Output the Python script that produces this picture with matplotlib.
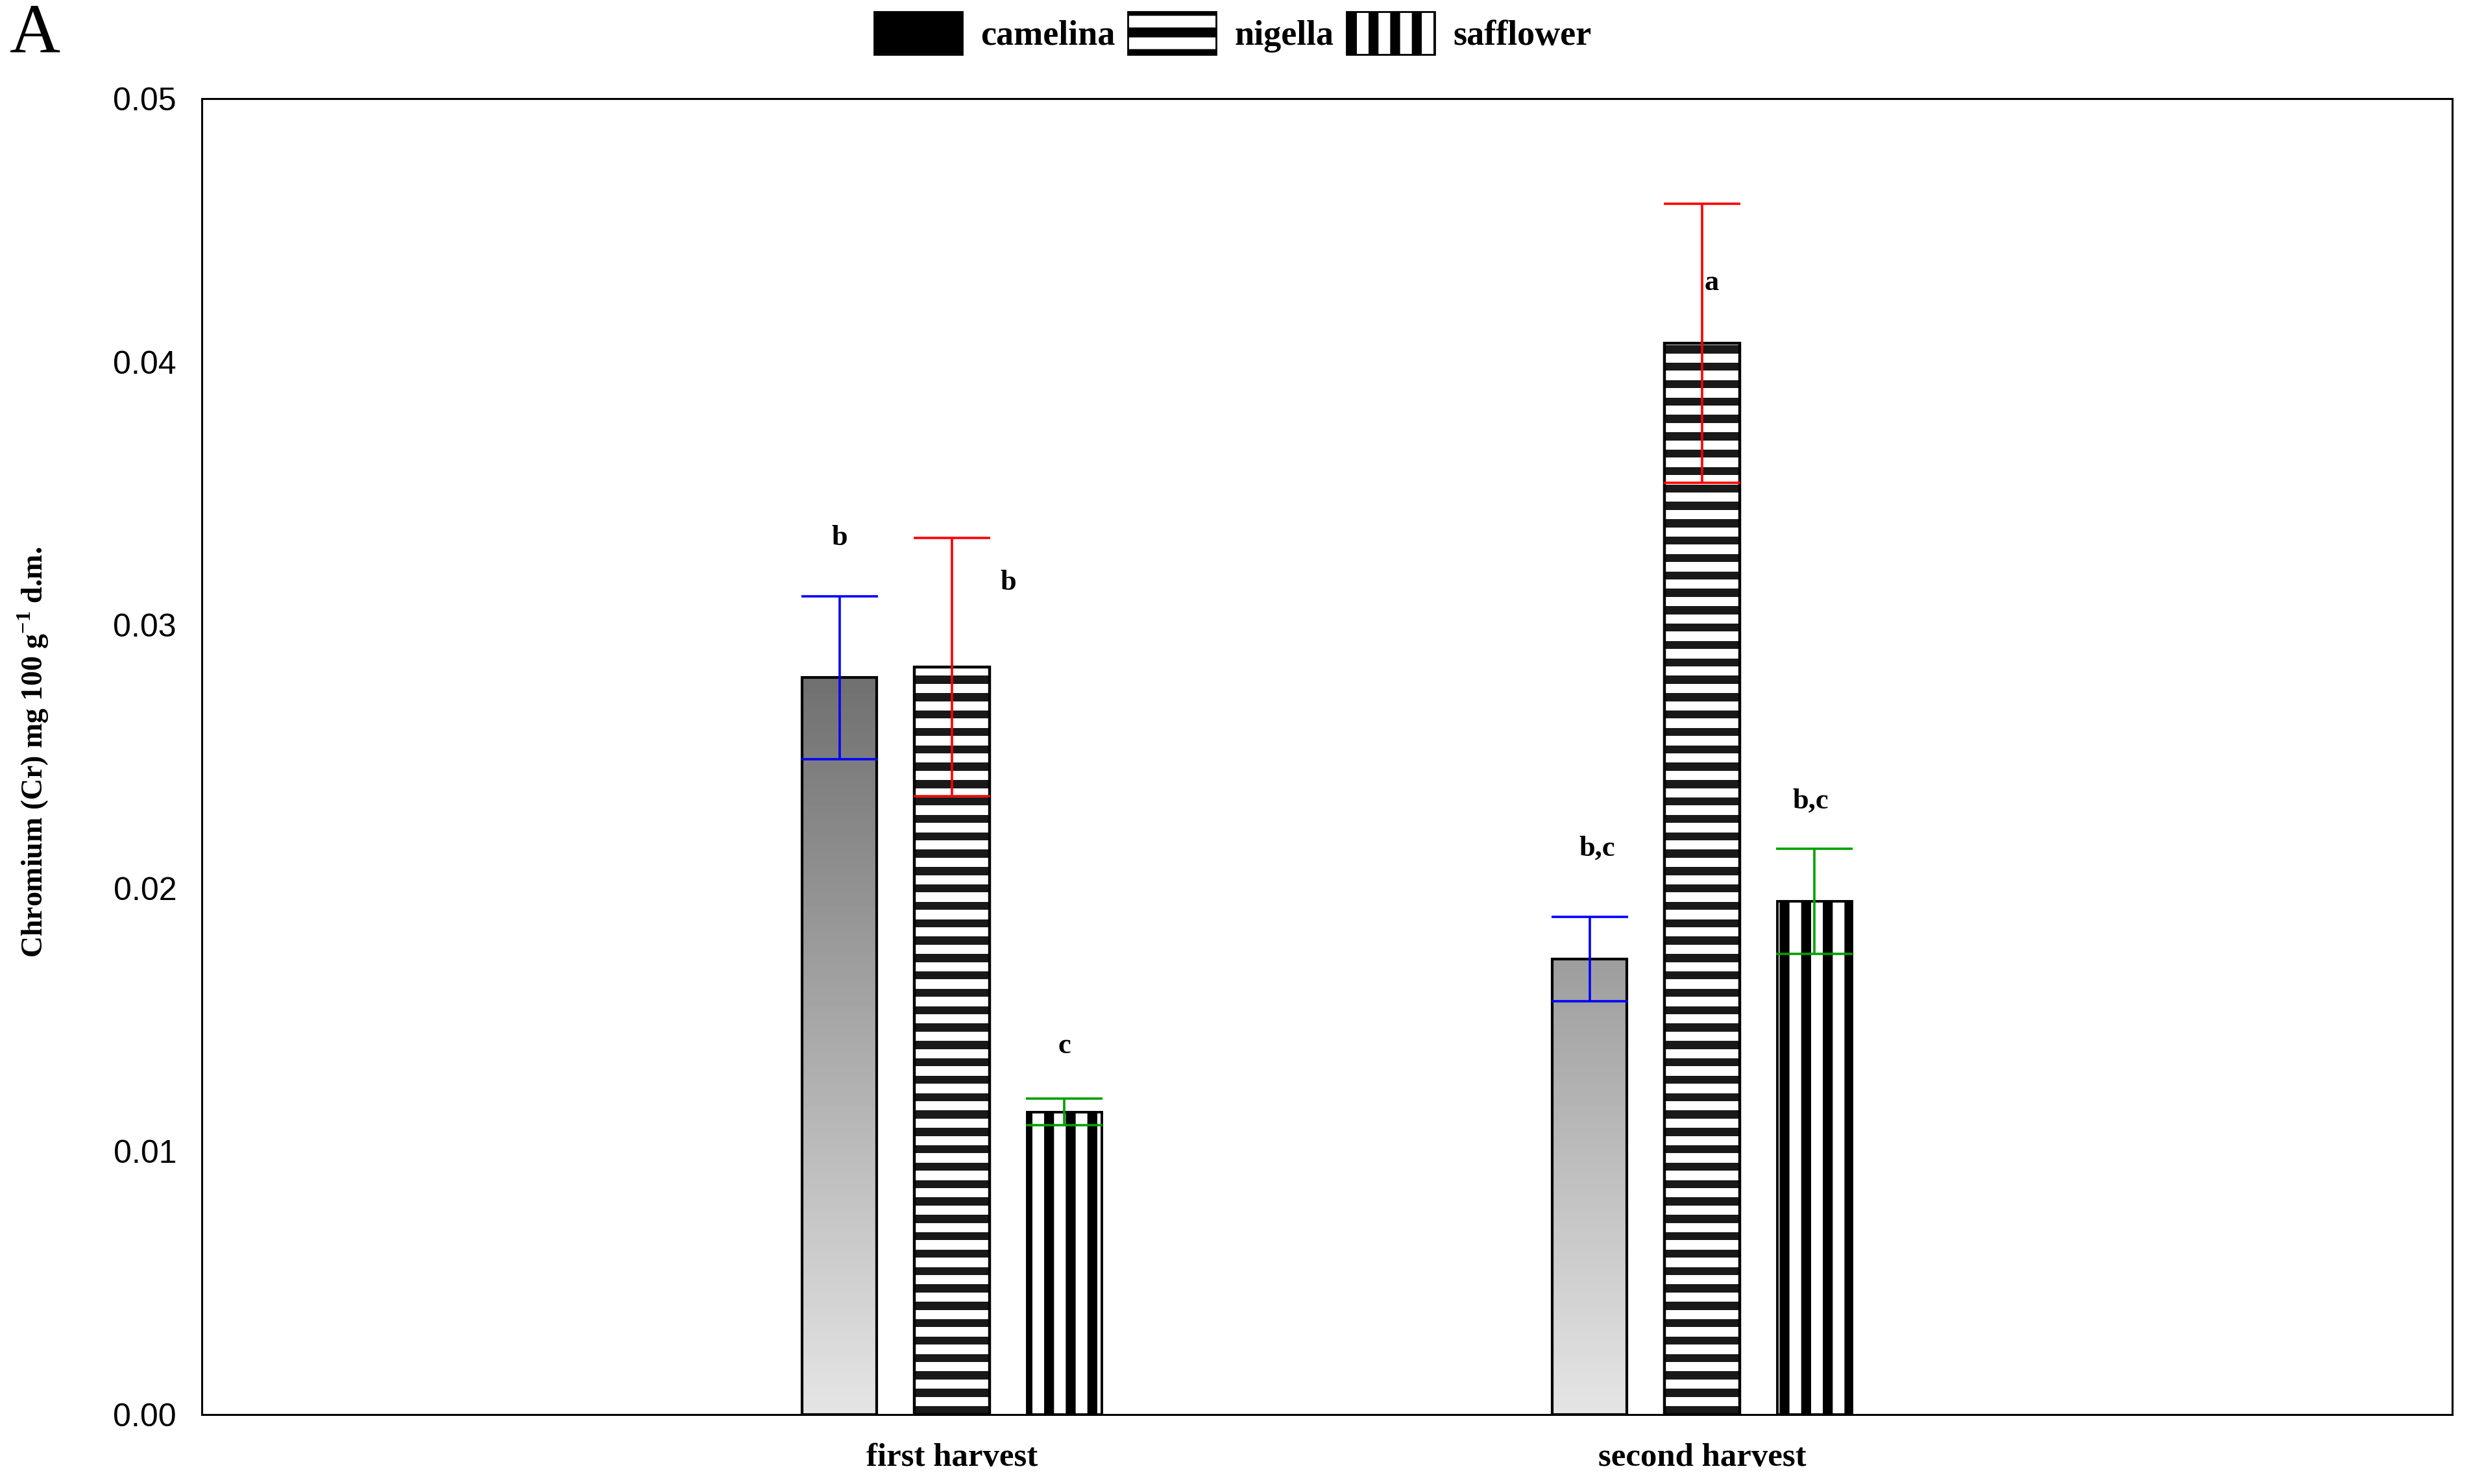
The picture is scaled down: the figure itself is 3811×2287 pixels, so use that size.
import numpy as np
import matplotlib
matplotlib.use("Agg")
import matplotlib.pyplot as plt
from matplotlib.patches import Patch
from matplotlib.font_manager import FontProperties

# ---------------- data ----------------
harvests = ["first harvest", "second harvest"]
crops = ["camelina", "nigella", "safflower"]
camelina = [0.0280, 0.0173]
nigella = [0.0284, 0.0407]
safflower = [0.0115, 0.0195]
camelina_err = [0.0031, 0.0016]
nigella_err = [0.0049, 0.0053]
safflower_err = [0.0005, 0.0020]
camelina_letters = ["b", "b,c"]
nigella_letters = ["b", "a"]
safflower_letters = ["c", "b,c"]
camelina_letter_y = [0.0333, 0.0215]
nigella_letter_y = [0.0316, 0.0430]
safflower_letter_y = [0.0140, 0.0233]
y_ticks = [0.00, 0.01, 0.02, 0.03, 0.04, 0.05]

# ---------------- style ----------------
plt.rcParams["hatch.linewidth"] = 5.5
plt.rcParams["mathtext.fontset"] = "custom"
plt.rcParams["mathtext.rm"] = "Liberation Serif"
plt.rcParams["mathtext.bf"] = "Liberation Serif:bold"
serif_b = dict(family="Liberation Serif", weight="bold")

fig = plt.figure(figsize=(19.055, 11.435), dpi=200)
ax = fig.add_axes([0.0816, 0.0468, 0.9916 - 0.0816, 0.9335 - 0.0468])
XLIM = (0, 3)
YLIM = (0, 0.05)
ax.set_xlim(*XLIM)
ax.set_ylim(*YLIM)

x = np.arange(1, len(harvests) + 1)
width = 0.1
offsets = [-0.15, 0.0, 0.15]
err_colors = ["#0000ff", "#ff0000", "#00a000"]
letter_dx = [[0.0, 0.01], [0.075, 0.013], [0.0, -0.005]]

values = [camelina, nigella, safflower]
errors = [camelina_err, nigella_err, safflower_err]
letters = [camelina_letters, nigella_letters, safflower_letters]
letter_y = [camelina_letter_y, nigella_letter_y, safflower_letter_y]

# camelina: gradient fill clipped to bars
bars_c = ax.bar(x + offsets[0], camelina, width, facecolor="none",
                edgecolor="black", linewidth=1.5, zorder=3)
grad = np.linspace(0, 1, 512)[:, None]
gray = (229 - 4180 * grad * 0.05) / 255.0
for b in bars_c:
    bb = b.get_bbox()
    im = ax.imshow(gray, cmap="gray", vmin=0, vmax=1, origin="lower",
                   extent=(bb.x0, bb.x1, 0, 0.05), aspect="auto",
                   interpolation="bilinear", zorder=2)
    im.set_clip_path(b)

# nigella: horizontal stripes clipped to bars
bars_n = ax.bar(x + offsets[1], nigella, width, facecolor="none",
                edgecolor="black", linewidth=1.6, zorder=3)
period, dark = 26.8, 12.5
for b in bars_n:
    bb = b.get_bbox()
    p0 = ax.transData.transform((bb.x0, bb.y0))
    p1 = ax.transData.transform((bb.x1, bb.y1))
    h = int(round(abs(p1[1] - p0[1])))
    r = np.arange(h)
    img = np.where((r % period) < dark, 0.1, 1.0)[:, None]
    im = ax.imshow(img, cmap="gray", vmin=0, vmax=1, origin="lower",
                   extent=(bb.x0, bb.x1, bb.y0, bb.y1), aspect="auto",
                   interpolation="nearest", zorder=2)
    im.set_clip_path(b)

# safflower: vertical hatch
bars_s = ax.bar(x + offsets[2], safflower, width, facecolor="white",
                edgecolor="black", hatch="|", linewidth=1.4, zorder=3)

for i in range(3):
    ax.errorbar(x + offsets[i], values[i], yerr=errors[i], fmt="none",
                ecolor=err_colors[i], elinewidth=1.3, capsize=21.2,
                capthick=1.3, zorder=4)
    for j in range(len(harvests)):
        ax.text(x[j] + offsets[i] + letter_dx[i][j], letter_y[i][j],
                letters[i][j], ha="center", va="center", fontsize=16,
                zorder=5, **serif_b)

ax.set_xlim(*XLIM)
ax.set_ylim(*YLIM)
ax.set_yticks(y_ticks)
ax.set_yticklabels([f"{t:.2f}" for t in y_ticks], family="Liberation Sans",
                   fontsize=18)
ax.set_xticks(x)
ax.set_xticklabels(harvests, fontsize=18.3, **serif_b)
ax.tick_params(axis="both", length=0)
ax.tick_params(axis="y", pad=14)
ax.tick_params(axis="x", pad=16)
for s in ax.spines.values():
    s.set_linewidth(1.1)
    s.set_color("black")

fig.text(0.0134, 0.493, "Chromium (Cr) mg 100 g$^{\\mathbf{-1}}$ d.m.",
         rotation=90, ha="center", va="center", fontsize=16.5, **serif_b)

fig.text(0.004, 0.965, "A", fontsize=39, family="Liberation Serif",
         va="baseline", ha="left")

handles = [Patch(facecolor="black", edgecolor="black"),
           Patch(facecolor="white", edgecolor="black", hatch="-"),
           Patch(facecolor="white", edgecolor="black", hatch="|")]
fig.legend(handles, crops, loc="center", bbox_to_anchor=(0.4985, 0.9777),
           ncol=3, frameon=False,
           prop=FontProperties(family="Liberation Serif", weight="bold", size=19.5),
           handlelength=2.51, handleheight=1.5, handletextpad=0.53,
           columnspacing=0.35, borderpad=0, borderaxespad=0)

fig.savefig("out.png", dpi=200)
